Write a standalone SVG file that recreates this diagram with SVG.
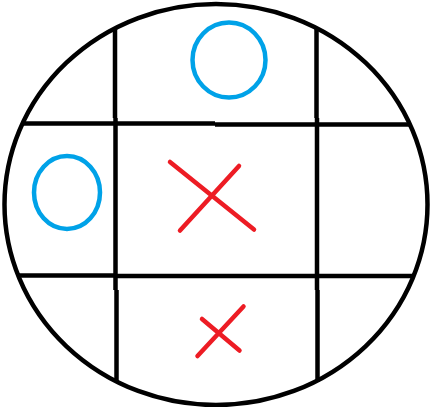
<svg xmlns="http://www.w3.org/2000/svg" width="431" height="407" viewBox="0 0 431 407">
<style>
.b{fill:none;stroke:#000;stroke-width:4.5}
.o{fill:none;stroke:#00A2E8;stroke-width:4.5}
.x{fill:none;stroke:#ED1C24;stroke-width:4.5;stroke-linecap:round}
</style>
<rect width="431" height="407" fill="#fff"/>
<g id="board">
<ellipse class="b" cx="216" cy="204.5" rx="211.5" ry="200.5"/>
<path class="b" d="M115 28V118M115.5 118V290M116.5 290V381M316.5 29V118M317 118V290M317.5 290V382"/>
<path class="b" d="M22 123.5H215M215 124.5H410M18 275.5H114M114 276H413"/>
</g>
<g id="o-top"><ellipse class="o" cx="229" cy="60" rx="36.5" ry="37.5"/></g>
<g id="o-left"><ellipse class="o" cx="67" cy="192.5" rx="33" ry="36.5"/></g>
<g id="x-center"><path class="x" d="M170 162L254 229.5M239 166L180 230.5"/></g>
<g id="x-bottom"><path class="x" d="M202 319L239.5 350.5M243.5 306.5L197.5 356"/></g>
</svg>
